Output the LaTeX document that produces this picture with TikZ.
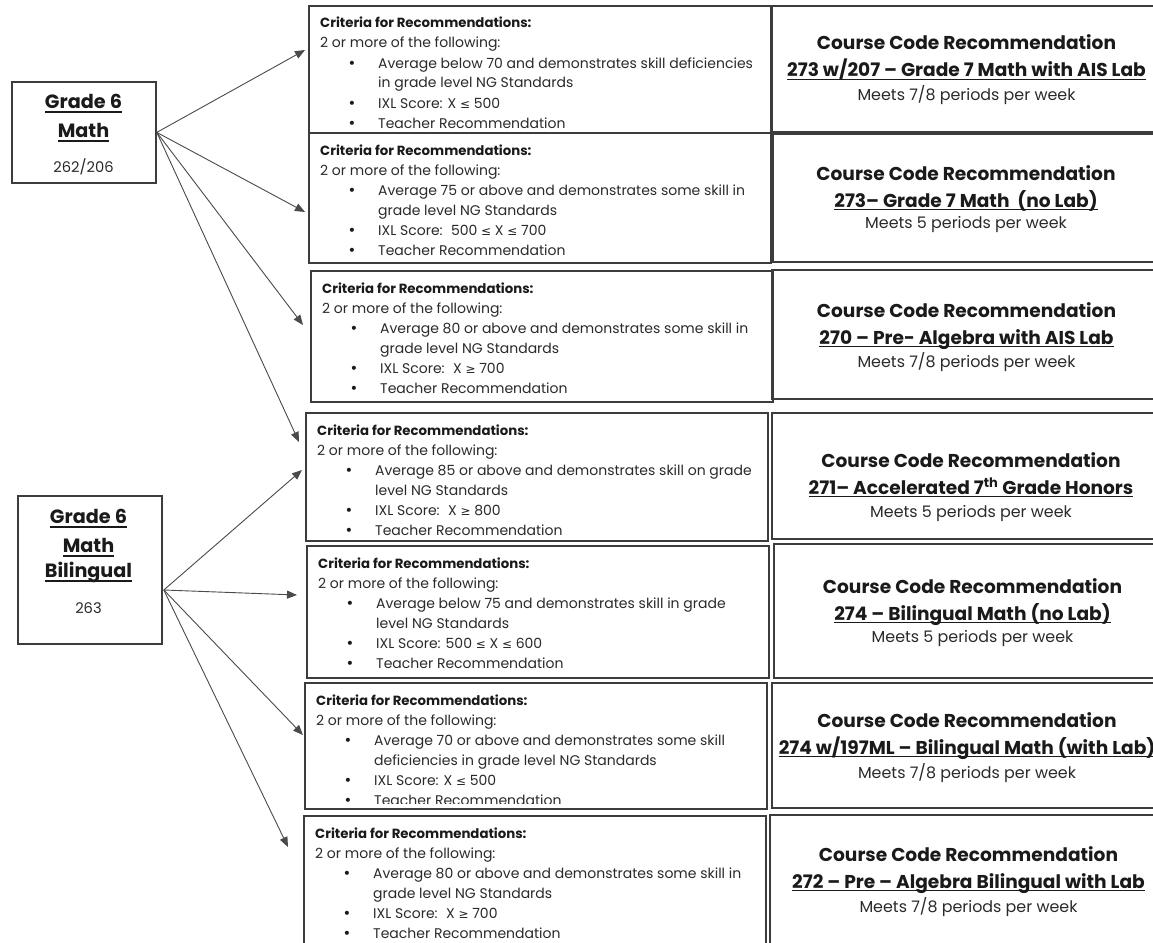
\documentclass[tikz,border=0pt]{standalone}
\usepackage{fontspec}
\setmainfont{Poppins}
\newfontfamily\symf{DejaVu Sans}
\usetikzlibrary{arrows.meta,calc}
\definecolor{bord}{HTML}{3C3C3C}
\definecolor{arr}{HTML}{4A4A4A}
\definecolor{txt}{HTML}{1A1A1A}
\definecolor{txtl}{HTML}{2A2A2A}
\newsavebox\ulbox
\newcommand\uln[2][3]{\sbox\ulbox{#2}\rlap{\rule[-#1pt]{\wd\ulbox}{1.4pt}}\usebox\ulbox}
\newcommand\lesym{{\symf\fontsize{12}{12}\selectfont ≤}}
\newcommand\gesym{{\symf\fontsize{12}{12}\selectfont ≥}}
\newcommand\crittext[4]{%
  \node[ctitle] (#1t) at ($(#1.north west)+(12,23)$) {Criteria for Recommendations:};
  \node[cbody] (#1f) at ($(#1.north west)+(12,43)$) {2 or more of the following:};
  \node[cbul] (#1b1) at ($(#1.north west)+(44,63)$) {•};
  \node[cbody] (#1i1) at ($(#1.north west)+(70,63)$) {#2};
  \node[cbody] (#1i1b) at ($(#1.north west)+(70,83)$) {#3};
  \node[cbul] (#1b2) at ($(#1.north west)+(44,103)$) {•};
  \node[cbody] (#1i2) at ($(#1.north west)+(70,103)$) {#4};
  \node[cbul] (#1b3) at ($(#1.north west)+(44,123)$) {•};
  \node[cbody] (#1i3) at ($(#1.north west)+(70,123)$) {Teacher Recommendation};
}
\newcommand\rectext[6]{%
  \node[rhead] (#1h) at (#2,#3) {Course Code Recommendation};
  \node[rhead] (#1c) at (#2,#3+27) {\uln{#5}};
  \node[rmeet] (#1m) at (#2,#4) {#6};
}
\begin{document}
\begin{tikzpicture}[x=1pt,y=-1pt,
  cbox/.style={draw=bord, line width=1.8pt, inner sep=0pt, anchor=north west, fill=none},
  ctitle/.style={anchor=base west, inner sep=0pt, text=txt, font=\fontsize{13.3}{15}\selectfont\bfseries},
  cbody/.style={anchor=base west, inner sep=0pt, text=txtl, font=\fontsize{14}{16}\selectfont},
  cbul/.style={anchor=base, inner sep=0pt, text=txt, font=\symf\fontsize{14}{16}\selectfont},
  rhead/.style={anchor=base, inner sep=0pt, text=txt, font=\fontsize{18.6}{20}\selectfont\bfseries},
  rmeet/.style={anchor=base, inner sep=0pt, text=txtl, font=\fontsize{15.9}{18}\selectfont},
  lhead/.style={anchor=base, inner sep=0pt, text=txt, font=\fontsize{19.2}{21}\selectfont\bfseries},
  lnum/.style={anchor=base, inner sep=0pt, text=txtl, font=\fontsize{14.7}{16}\selectfont},
  arrow/.style={draw=arr, line width=0.9pt, -{Triangle[length=10pt,width=8pt]}}]
\clip (0,0) rectangle (1153,942);
\fill[white] (0,0) rectangle (1153,942);
% left source boxes
\node[cbox, minimum width=144pt, minimum height=101pt] (L1) at (11,81) {};
\node[cbox, minimum width=144pt, minimum height=148pt] (L2) at (17,495) {};
\node[lhead] (L1a) at (83.5,108) {\uln[4.5]{Grade 6}};
\node[lhead] (L1b) at (83.5,137) {\uln[4.5]{Math}};
\node[lnum] (L1c) at (83.5,172) {262/206};
\node[lhead] (L2a) at (88.5,523) {\uln[4.5]{Grade 6}};
\node[lhead] (L2b) at (88.5,552) {\uln[4.5]{Math}};
\node[lhead] (L2c) at (88.5,577) {\uln[4.5]{Bilingual}};
\node[lnum] (L2d) at (88.5,613) {263};
% criteria boxes
\node[cbox, minimum width=462pt, minimum height=127pt] (C1) at (308,5) {};
\node[cbox, minimum width=462pt, minimum height=130pt] (C2) at (308,132) {};
\node[cbox, minimum width=462pt, minimum height=131pt] (C3) at (310,270) {};
\node[cbox, minimum width=462pt, minimum height=128pt] (C4) at (305,412) {};
\node[cbox, minimum width=462pt, minimum height=132pt] (C5) at (306,545) {};
\node[cbox, minimum width=462pt, minimum height=126pt] (C6) at (304,682) {};
\node[cbox, minimum width=462pt, minimum height=140pt] (C7) at (303,815) {};
% recommendation boxes
\node[cbox, minimum width=390pt, minimum height=126pt] (R1) at (771,5) {};
\node[cbox, minimum width=390pt, minimum height=128pt] (R2) at (772,133) {};
\node[cbox, minimum width=390pt, minimum height=129pt] (R3) at (771,269) {};
\node[cbox, minimum width=390pt, minimum height=126pt] (R4) at (771,412) {};
\node[cbox, minimum width=390pt, minimum height=134pt] (R5) at (773,543) {};
\node[cbox, minimum width=390pt, minimum height=125pt] (R6) at (771,682) {};
\node[cbox, minimum width=390pt, minimum height=140pt] (R7) at (769,814) {};
% criteria texts
\crittext{C1}{Average below 70 and demonstrates skill deficiencies}{in grade level NG Standards}{IXL Score: X \lesym{} 500}
\crittext{C2}{Average 75 or above and demonstrates some skill in}{grade level NG Standards}{IXL Score:\hspace{0.6em}500 \lesym{} X \lesym{} 700}
\crittext{C3}{Average 80 or above and demonstrates some skill in}{grade level NG Standards}{IXL Score:\hspace{0.6em}X \gesym{} 700}
\crittext{C4}{Average 85 or above and demonstrates skill on grade}{level NG Standards}{IXL Score:\hspace{0.6em}X \gesym{} 800}
\crittext{C5}{Average below 75 and demonstrates skill in grade}{level NG Standards}{IXL Score: 500 \lesym{} X \lesym{} 600}
\begin{scope}
\clip ($(C6.north west)+(0,-2)$) rectangle ($(C6.south east)+(0,-6)$);
\crittext{C6}{Average 70 or above and demonstrates some skill}{deficiencies in grade level NG Standards}{IXL Score: X \lesym{} 500}
\end{scope}
\crittext{C7}{Average 80 or above and demonstrates some skill in}{grade level NG Standards}{IXL Score:\hspace{0.6em}X \gesym{} 700}
% recommendation texts
\rectext{R1}{966.5}{50}{100}{273 w/207 – Grade 7 Math with AIS Lab}{Meets 7/8 periods per week}
\rectext{R2}{966}{180}{228}{273– Grade 7 Math\ \ (no Lab)}{Meets 5 periods per week}
\rectext{R3}{966.5}{317}{367}{270 – Pre- Algebra with AIS Lab}{Meets 7/8 periods per week}
\rectext{R4}{971}{467}{517}{271– Accelerated 7\textsuperscript{th} Grade Honors}{Meets 5 periods per week}
\rectext{R5}{972.5}{593}{642}{274 – Bilingual Math (no Lab)}{Meets 5 periods per week}
\rectext{R6}{967}{727}{778}{274 w/197ML – Bilingual Math (with Lab)}{Meets 7/8 periods per week}
\rectext{R7}{968.5}{861}{912}{272 – Pre – Algebra Bilingual with Lab}{Meets 7/8 periods per week}
% arrows
\draw[arrow] (L1.east) -- ($(C1.north west)+(-3,45)$);
\draw[arrow] (L1.east) -- ($(C2.north west)+(-3,80)$);
\draw[arrow] (L1.east) -- ($(C3.north west)+(-7,55)$);
\draw[arrow] (L1.east) -- ($(C4.north west)+(-6,30)$);
\coordinate (L2s) at ($(L2.north east)+(1,95)$);
\draw[arrow] (L2s) -- ($(C4.north west)+(-3,58)$);
\draw[arrow] (L2s) -- ($(C5.north west)+(-9,50)$);
\draw[arrow] (L2s) -- ($(C6.north west)+(-1,53)$);
\draw[arrow] (L2s) -- ($(C7.north west)+(-15,32)$);
\end{tikzpicture}
\end{document}
